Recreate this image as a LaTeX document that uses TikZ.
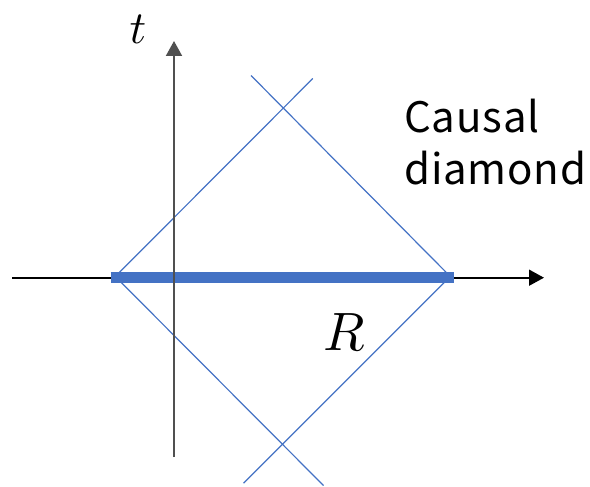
\documentclass[tikz,border=0pt]{standalone}
\usepackage{fontspec}
\newfontfamily\jpfont[LetterSpace=2]{Noto Sans CJK JP}
\usetikzlibrary{arrows.meta}
\definecolor{accblue}{HTML}{4472C4}
\definecolor{axgray}{HTML}{505050}
\begin{document}
\begin{tikzpicture}[x=1pt,y=-1pt,
  thinline/.style={draw=accblue,line width=1.2pt},
  barline/.style={draw=accblue,line width=11pt},
  axisline/.style={line width=1.6pt,-{Triangle[length=15pt,width=16pt]}}]
\useasboundingbox (0,0) rectangle (590,487);
% diamond vertices and line ends
\coordinate (L) at (115.3,276.5);
\coordinate (Rv) at (450.3,276.5);
\coordinate (ulend) at (312.8,78.5);
\coordinate (urend) at (251,75.5);
\coordinate (llend) at (323.5,485.5);
\coordinate (lrend) at (243.5,483.2);
\coordinate (xs) at (12,277.7);
\coordinate (xe) at (544,277.7);
\coordinate (ys) at (174,457);
\coordinate (ye) at (174,41);
\coordinate (bs) at (110.7,277.5);
\coordinate (be) at (454.3,277.5);
% horizontal axis
\draw[axisline,black] (xs) -- (xe);
% diamond sides
\draw[thinline] (L) -- (ulend);
\draw[thinline] (Rv) -- (urend);
\draw[thinline] (L) -- (llend);
\draw[thinline] (Rv) -- (lrend);
% region R
\draw[barline] (bs) -- (be);
% vertical axis
\draw[axisline,axgray,line width=2pt] (ys) -- (ye);
% labels
\node[inner sep=0,scale=4.6] (tlab) at (138,29) {$t$};
\node[inner sep=0,scale=5.4] (Rlab) at (344.5,332) {$R$};
\node[anchor=base west,inner sep=0] (cd1) at (404,132.7) {\jpfont\fontsize{42}{51}\selectfont Causal};
\node[anchor=base west,inner sep=0] (cd2) at (404,184) {\jpfont\fontsize{42}{51}\selectfont diamond};
\end{tikzpicture}
\end{document}
